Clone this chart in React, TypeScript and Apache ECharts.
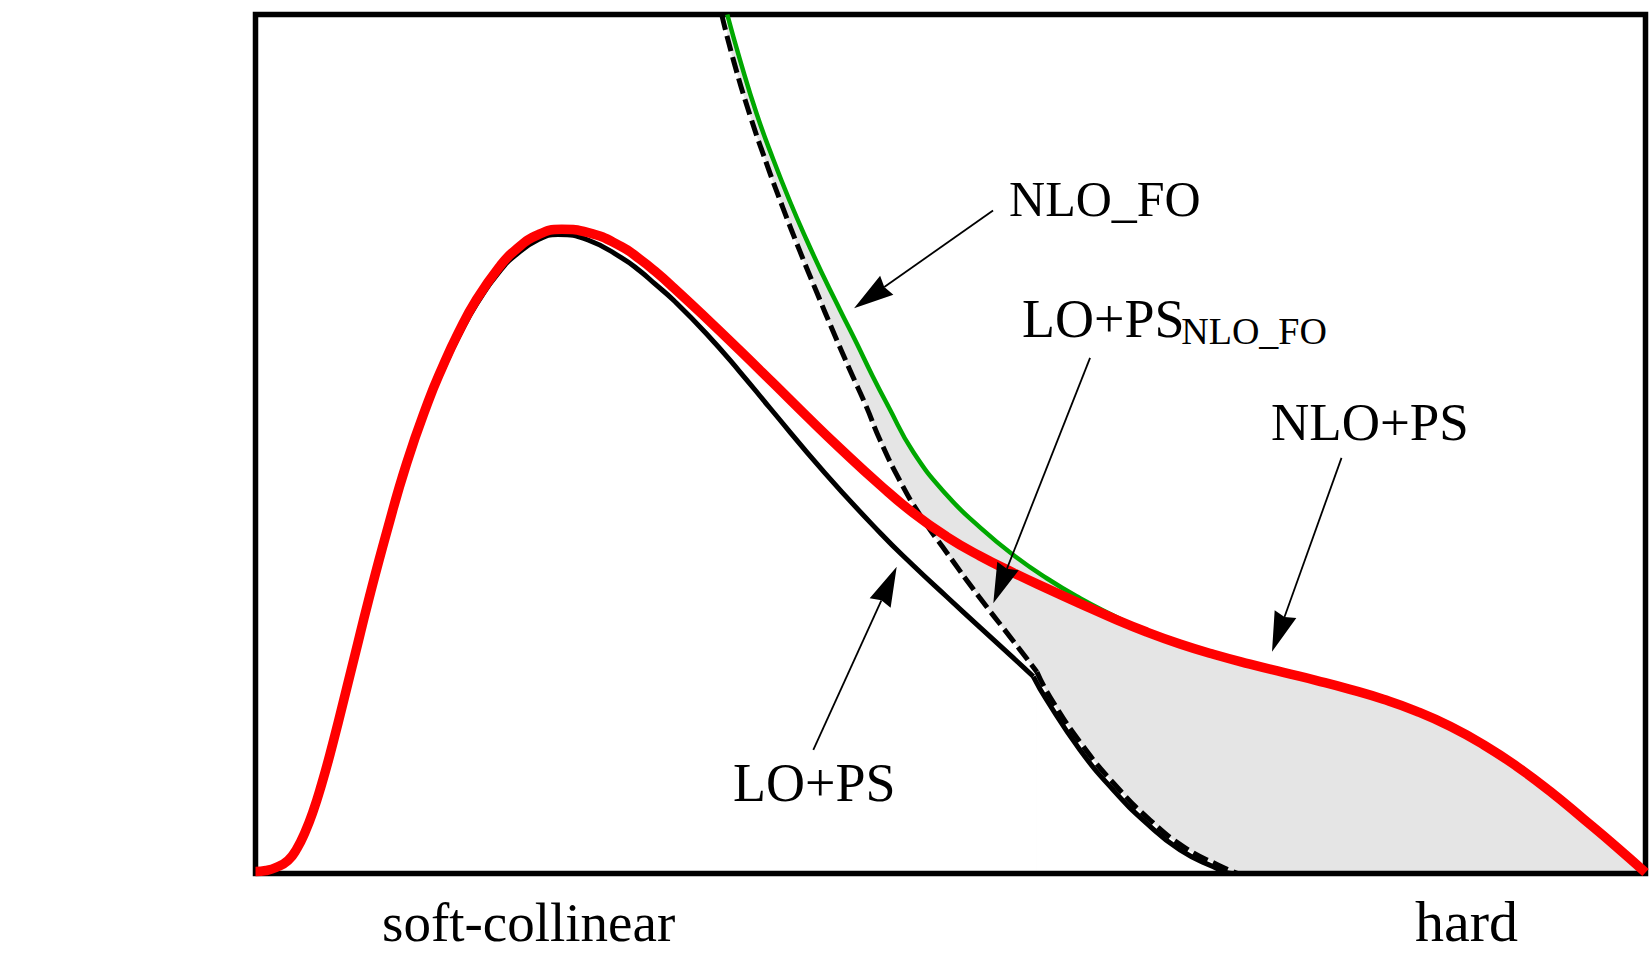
import React, { useEffect, useRef } from "react";
import * as echarts from "echarts";

// x: 0..100 across the frame, y: 0..100 from bottom to top of the frame
const NLO_PS: [number, number][] = [
  [0, 0.23], [0.76, 0.35], [1.47, 0.7], [2.34, 1.51], [2.99, 2.93], [3.56, 4.8],
  [4.14, 7.22], [4.76, 10.41], [5.36, 13.89], [5.96, 17.66], [7.16, 25.48],
  [8.09, 31.54], [9.44, 39.76], [10.88, 47.79], [12.43, 54.96], [13.4, 58.78],
  [14.59, 62.93], [15.91, 66.85], [17.59, 70.71], [18.67, 72.55], [20.35, 74.38],
  [22.03, 74.99], [23.94, 74.61], [26.35, 72.96], [27.66, 71.51], [28.74, 70.12],
  [30.06, 68.23], [32.46, 64.6], [34.86, 60.87], [37.25, 57.08], [39.65, 53.25],
  [42.05, 49.51], [44.93, 45.23], [47.32, 41.97], [49.73, 39.21], [52.12, 36.96],
  [54.52, 35.02], [56.92, 33.19], [59.32, 31.42], [61.71, 29.71], [64.12, 28.11],
  [66.51, 26.72], [68.91, 25.52], [71.55, 24.37], [73.94, 23.41], [76.35, 22.46],
  [78.74, 21.44], [81.14, 20.28], [83.54, 18.88], [85.94, 17.14], [88.33, 15.01],
  [90.73, 12.48], [93.13, 9.57], [95.53, 6.36], [97.93, 3.08], [100, 0.12],
];

const LO_PS: [number, number][] = [
  [0, 0.12], [0.76, 0.23], [1.47, 0.58], [2.34, 1.4], [2.99, 2.82], [3.56, 4.66],
  [4.14, 7.04], [4.76, 10.19], [5.36, 13.66], [5.96, 17.4], [7.16, 25.2],
  [8.09, 31.26], [9.44, 39.41], [10.88, 47.38], [12.43, 54.54], [13.4, 58.32],
  [14.59, 62.4], [15.91, 66.3], [17.59, 70.14], [18.67, 71.94], [20.35, 73.81],
  [21.76, 74.39], [23.92, 73.75], [26.37, 71.65], [27.66, 70.14], [28.74, 68.63],
  [30.06, 66.76], [32.46, 62.81], [34.86, 58.38], [37.01, 54.19], [40.97, 46.62],
  [44.93, 39.67], [47.32, 35.86], [49.73, 32.22], [52.12, 28.66], [54.52, 25.1],
  [55.96, 22.93],
  [56.92, 20.2], [59.32, 14.38], [61.71, 9.72], [64.12, 5.84], [66.51, 2.74],
  [68.91, 0.79], [70.25, 0], [100, 0],
];
const LO_PS_KINK_X = 55.96;

const LO_PS_NLO_FO: [number, number][] = [
  [33.54, 100], [34.35, 94.88], [35.58, 88.24], [36.8, 82.5], [37.95, 77.47],
  [39.17, 72.42], [40.4, 67.57], [41.55, 63.13], [42.77, 58.58], [43.92, 54.45],
  [44.93, 50.47], [46.37, 45.69], [47.81, 41.73], [49.75, 37.31], [52.12, 32.07],
  [54.5, 27.1], [56.22, 23.47],
  [57.16, 20.55], [59.53, 14.84], [61.91, 10.19], [64.35, 6.23], [66.8, 3.08],
  [69.24, 0.99], [70.68, 0],
];
const LO_PS_NLO_FO_KINK_X = 56.22;

const NLO_FO: [number, number][] = [
  [33.94, 100], [34.86, 94.7], [36.06, 88.42], [37.25, 83.12], [38.45, 78.23],
  [39.65, 73.75], [40.85, 69.56], [42.05, 65.6], [43.25, 61.72], [44.39, 57.92],
  [45.53, 54.37], [47.32, 49.07], [49.73, 44.06], [52.12, 40.3], [54.52, 37.08],
  [56.92, 34.37], [59.32, 32.04], [61.71, 30.03], [64.12, 28.11],
];

// annotation arrows: [fromX, fromY, toX, toY]
const ARROWS: [number, number, number, number][] = [
  [53.06, 77.18, 43.06, 65.8],
  [60.04, 60.03, 53.08, 31.46],
  [78.13, 48.39, 73.13, 25.81],
  [40.13, 14.38, 46.13, 35.72],
];

const LABEL_TEXTS = ["NLO_FO", "LO+PS", "NLO_FO", "NLO+PS", "LO+PS", "soft-collinear", "hard"];
// left end of each label's baseline
const LABEL_ANCHORS: [number, number][] = [
  [54.21, 76.54], [55.14, 62.46], [66.6, 61.64], [73.06, 50.47], [34.35, 8.36],
  [9.1, -7.86], [83.42, -7.86],
];
const LABEL_FONT_SIZES = [50, 54, 38, 53, 54, 55, 58];

const FONT = '"Liberation Serif", "DejaVu Serif", serif';

function splitAt(arr: [number, number][], x: number): [[number, number][], [number, number][]] {
  const k = arr.findIndex((p) => p[0] === x);
  return [arr.slice(0, k + 1), arr.slice(k)];
}

export default function App() {
  const ref = useRef<HTMLDivElement>(null);
  useEffect(() => {
    if (!ref.current) return;
    const chart = echarts.init(ref.current, undefined, { renderer: "svg" });
    const greenEnd = NLO_FO[NLO_FO.length - 1][0];
    const upper = [...NLO_FO, ...NLO_PS.filter((p) => p[0] > greenEnd)];
    const [loA, loB] = splitAt(LO_PS, LO_PS_KINK_X);
    const [dA, dB] = splitAt(LO_PS_NLO_FO, LO_PS_NLO_FO_KINK_X);
    const SM = 0.5;
    const areaSeries = (data: [number, number][], color: string) => ({
      type: "line",
      data,
      smooth: SM,
      symbol: "none",
      z: 1,
      silent: true,
      lineStyle: { width: 0, opacity: 0 },
      areaStyle: { color, opacity: 1 },
    });
    const lineSeries = (name: string, data: [number, number][], color: string, width: number, type: any, z: number) => ({
      type: "line",
      name,
      data,
      smooth: SM,
      symbol: "none",
      z,
      silent: true,
      lineStyle: { color, width, type, cap: "butt", join: "round" },
    });
    chart.setOption({
      animation: false,
      backgroundColor: "#ffffff",
      grid: {
        show: true,
        left: 255.5,
        top: 14.5,
        width: 1390,
        height: 859,
        borderColor: "#000",
        borderWidth: 5.5,
        backgroundColor: "transparent",
        z: 2,
      },
      xAxis: { type: "value", min: 0, max: 100, show: false },
      yAxis: { type: "value", min: 0, max: 100, show: false },
      series: [
        areaSeries(upper, "#e5e5e5"),
        areaSeries(dA, "#ffffff"),
        areaSeries(dB, "#ffffff"),
        lineSeries("LO+PS", loA, "#000", 5, "solid", 3),
        lineSeries("LO+PS", loB, "#000", 5, "solid", 3),
        lineSeries("LO+PS NLO_FO", dA, "#000", 5, [16, 6], 3),
        lineSeries("LO+PS NLO_FO", dB, "#000", 5, [16, 6], 3),
        lineSeries("NLO_FO", NLO_FO, "#00a800", 4.5, "solid", 3),
        lineSeries("NLO+PS", NLO_PS, "#ff0000", 9.5, "solid", 4),
        {
          type: "custom",
          coordinateSystem: "cartesian2d",
          data: ARROWS,
          encode: { x: [0, 2], y: [1, 3] },
          z: 5,
          silent: true,
          clip: false,
          renderItem: (params: any, api: any) => {
            const p1 = api.coord([api.value(0), api.value(1)]);
            const p2 = api.coord([api.value(2), api.value(3)]);
            const dx = p2[0] - p1[0];
            const dy = p2[1] - p1[1];
            const len = Math.hypot(dx, dy);
            const ux = dx / len;
            const uy = dy / len;
            const nx = -uy;
            const ny = ux;
            const L = 40;
            const W = 11.5;
            const notch = 3;
            const bx = p2[0] - ux * L;
            const by = p2[1] - uy * L;
            return {
              type: "group",
              children: [
                {
                  type: "line",
                  shape: { x1: p1[0], y1: p1[1], x2: bx + ux * notch, y2: by + uy * notch },
                  style: { stroke: "#000", lineWidth: 1.8 },
                },
                {
                  type: "polygon",
                  shape: {
                    points: [
                      [p2[0], p2[1]],
                      [bx + nx * W, by + ny * W],
                      [bx + ux * notch, by + uy * notch],
                      [bx - nx * W, by - ny * W],
                    ],
                  },
                  style: { fill: "#000" },
                },
              ],
            };
          },
        },
        {
          type: "custom",
          coordinateSystem: "cartesian2d",
          data: LABEL_ANCHORS,
          z: 6,
          silent: true,
          clip: false,
          renderItem: (params: any, api: any) => {
            const i = params.dataIndex;
            const p = api.coord([api.value(0), api.value(1)]);
            const size = LABEL_FONT_SIZES[i];
            return {
              type: "text",
              x: p[0],
              y: p[1] - 0.3375 * size,
              style: {
                text: LABEL_TEXTS[i],
                fontSize: size,
                fontFamily: FONT,
                fill: "#000",
                align: "left",
                verticalAlign: "middle",
              },
            };
          },
        },
      ],
    });
    return () => chart.dispose();
  }, []);
  return (
    <div
      ref={ref}
      style={{ position: "fixed", left: 0, top: 0, width: 1650, height: 954, background: "#fff" }}
    />
  );
}
